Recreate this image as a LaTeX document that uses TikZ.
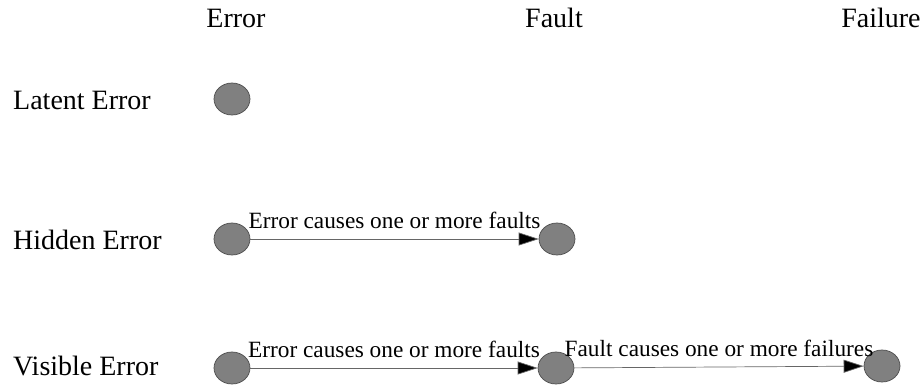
\documentclass[tikz,border=0pt]{standalone}
\usepackage{fontspec}
\setmainfont{Liberation Serif}
\usetikzlibrary{shapes.geometric,arrows.meta}
\begin{document}
\begin{tikzpicture}[x=1pt,y=-1pt,
  state/.style={ellipse,draw=black!70,fill=black!50,line width=0.7pt,
    minimum width=36pt,minimum height=32pt,inner sep=0pt},
  hdr/.style={anchor=base,font=\fontsize{28}{31}\selectfont,inner sep=0pt},
  rowlbl/.style={anchor=base west,font=\fontsize{28}{31}\selectfont,inner sep=0pt},
  cause/.style={draw=black!60,line width=0.7pt,
    -{Triangle[length=20pt,width=13pt,fill=black]}},
  edgelbl/.style={anchor=base,font=\fontsize{23.3}{27}\selectfont,inner sep=0pt,yshift=11pt}]
\useasboundingbox (0,0) rectangle (923,386);

% column headers
\node[hdr] (hErr) at (236,27) {Error};
\node[hdr] (hFlt) at (554,27) {Fault};
\node[hdr] (hFail) at (881,27) {Failure};

% row labels
\node[rowlbl] (lLat) at (13,109) {Latent Error};
\node[rowlbl] (lHid) at (13,249) {Hidden Error};
\node[rowlbl] (lVis) at (13,375) {Visible Error};

% latent row
\node[state] (l1) at (232,99) {};

% hidden row
\node[state] (h1) at (232,239) {};
\node[state] (h2) at (557,239) {};
\draw[cause] (h1) -- node[edgelbl] {Error causes one or more faults} (h2);

% visible row
\node[state] (v1) at (232,368) {};
\node[state] (v2) at (556,368) {};
\node[state] (v3) at (882,366) {};
\draw[cause] (v1) -- node[edgelbl] {Error causes one or more faults} (v2);
\draw[cause] (v2) -- node[edgelbl] {Fault causes one or more failures} (v3);
\end{tikzpicture}
\end{document}
